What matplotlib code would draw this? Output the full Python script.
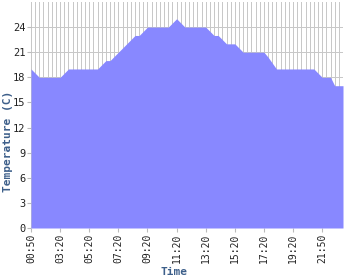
import matplotlib
matplotlib.use("Agg")
import matplotlib.pyplot as plt
import numpy as np

# Temperature readings (C), one per sample, categorical time axis
temps = [19, 18.5, 18, 18, 18, 18, 18, 18, 18.5, 19,
         19, 19, 19, 19, 19, 19, 19, 19.5, 20, 20,
         20.5, 21, 21.5, 22, 22.5, 23, 23, 23.5, 24, 24,
         24, 24, 24, 24, 24.5, 25, 24.5, 24, 24, 24,
         24, 24, 24, 23.5, 23, 23, 22.5, 22, 22, 22,
         21.5, 21, 21, 21, 21, 21, 21, 20.4, 19.7, 19,
         19, 19, 19, 19, 19, 19, 19, 19, 19, 18.5,
         18, 18, 18, 17, 17, 17]
tick_labels = ["00:50", "03:20", "05:20", "07:20", "09:20", "11:20",
               "13:20", "15:20", "17:20", "19:20", "21:50"]
tick_step = 7
y_ticks = [0, 3, 6, 9, 12, 15, 18, 21, 24]

x = np.arange(len(temps))

fig = plt.figure(figsize=(3.5, 2.8), dpi=100)
ax = fig.add_axes([31/350, 1-228/280, (343-31)/350, (228-2)/280])

ax.set_xlim(0, len(temps) - 1)
ax.set_ylim(0, 27)

# grid
for xi in x:
    ax.axvline(xi, color="#c8c8c8", lw=0.72, zorder=0, antialiased=False)
for yt in y_ticks:
    ax.axhline(yt, color="#c8c8c8", lw=0.72, zorder=0, antialiased=False)

ax.fill_between(x, temps, 0, color="#8888ff", lw=0, zorder=2)

for s in ax.spines.values():
    s.set_visible(False)

ax.set_xticks(x[::tick_step][:len(tick_labels)])
ax.set_xticklabels(tick_labels, rotation=90, family="DejaVu Sans Mono",
                   fontsize=7, color="#222222")
ax.set_yticks(y_ticks)
ax.set_yticklabels([str(v) for v in y_ticks], family="DejaVu Sans Mono",
                   fontsize=7.5, color="#222222")
ax.tick_params(axis="both", length=3, width=0.8, color="#bbbbbb", pad=1)

fig.text(174/350, 1-272/280, "Time", family="DejaVu Sans Mono",
         fontweight="bold", fontsize=8, color="#3d5f8a",
         ha="center", va="center")
fig.text(8/350, 1-141/280, "Temperature (C)", family="DejaVu Sans Mono",
         fontweight="bold", fontsize=8, color="#3d5f8a", rotation=90,
         ha="center", va="center")

fig.savefig("out.png", dpi=100, facecolor="white")
